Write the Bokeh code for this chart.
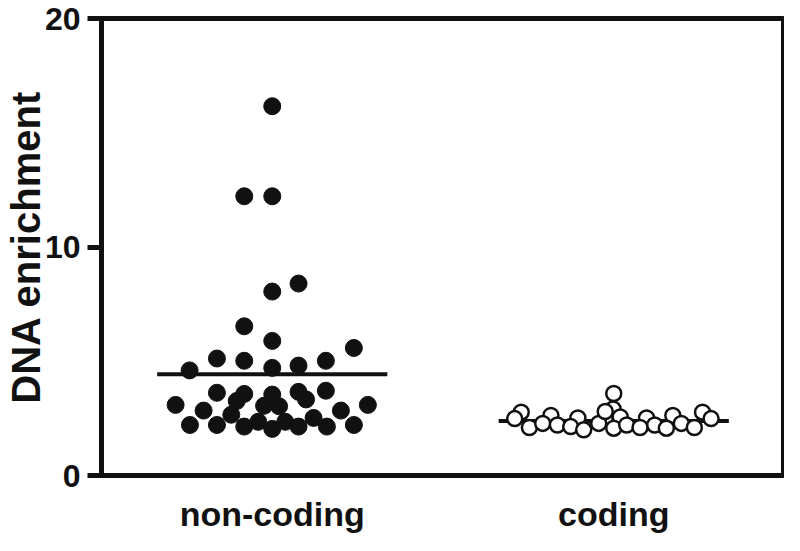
from bokeh.plotting import figure
from bokeh.models import Range1d, FixedTicker, ColumnDataSource
from bokeh.embed import file_html
from bokeh.resources import INLINE

categories = ["non-coding", "coding"]
cat_pos = [0.5, 1.5]

# non-coding: horizontal scatter offset (data units) and enrichment
nc_offset = [0.0, -0.082, 0.0, 0.077, 0.0, -0.082, 0.0, 0.239, -0.162, -0.082,
             0.157, 0.077, 0.0, -0.242, -0.162, -0.082, 0.0, 0.077, 0.157, -0.104,
             0.099, -0.283, 0.280, -0.024, 0.020, -0.201, 0.201, -0.120, 0.121, -0.241,
             -0.162, 0.239, 0.160, -0.082, -0.041, 0.038, 0.0, 0.077]
nc_value = [16.16, 12.22, 12.22, 8.40, 8.05, 6.53, 5.89, 5.58, 5.12, 5.02,
            5.02, 4.81, 4.71, 4.60, 3.62, 3.57, 3.54, 3.66, 3.71, 3.26,
            3.33, 3.09, 3.09, 3.05, 3.03, 2.84, 2.84, 2.66, 2.52, 2.21,
            2.21, 2.21, 2.14, 2.14, 2.35, 2.35, 2.04, 2.14]

# coding
c_offset = [0.0, -0.002, -0.271, -0.184, -0.105, 0.096, 0.173, 0.260, -0.290, -0.025,
            0.019, 0.285, -0.247, -0.208, -0.165, -0.126, -0.088, -0.044, 0.0, 0.038,
            0.077, 0.120, 0.154, 0.198, 0.236, -0.025]
c_value = [3.59, 2.91, 2.77, 2.63, 2.52, 2.52, 2.63, 2.77, 2.49, 2.52,
           2.56, 2.49, 2.10, 2.28, 2.21, 2.14, 2.00, 2.28, 2.07, 2.21,
           2.10, 2.21, 2.07, 2.28, 2.10, 2.80]

means = [4.43, 2.38]
mean_half_width = 0.337

y_ticks = [0, 10, 20]

p = figure(width=784, height=535, output_backend="svg", toolbar_location=None,
           title=None,
           x_range=Range1d(0, 2), y_range=Range1d(0, 20),
           min_border_left=98, min_border_right=0, min_border_top=18, min_border_bottom=53)

p.grid.visible = False
p.background_fill_color = "white"
p.border_fill_color = "white"
p.outline_line_color = "#111111"
p.outline_line_width = 5

FONT = "Liberation Sans"

p.xaxis.ticker = FixedTicker(ticks=cat_pos)
p.xaxis.major_label_overrides = {cat_pos[i]: categories[i] for i in range(2)}
p.xaxis.major_tick_line_color = None
p.xaxis.minor_tick_line_color = None
p.xaxis.axis_line_width = 5
p.xaxis.axis_line_color = "#111111"
p.xaxis.major_label_text_font = FONT
p.xaxis.major_label_text_font_style = "bold"
p.xaxis.major_label_text_font_size = "34px"
p.xaxis.major_label_text_color = "#111111"
p.xaxis.major_label_standoff = 13

p.yaxis.ticker = FixedTicker(ticks=y_ticks)
p.yaxis.minor_tick_line_color = None
p.yaxis.major_tick_out = 14
p.yaxis.major_tick_in = 0
p.yaxis.major_tick_line_width = 5
p.yaxis.major_tick_line_color = "#111111"
p.yaxis.axis_line_width = 5
p.yaxis.axis_line_color = "#111111"
p.yaxis.major_label_text_font = FONT
p.yaxis.major_label_text_font_style = "bold"
p.yaxis.major_label_text_font_size = "32px"
p.yaxis.major_label_text_color = "#111111"
p.yaxis.major_label_standoff = 7
p.yaxis.axis_label = "DNA enrichment"
p.yaxis.axis_label_text_font = FONT
p.yaxis.axis_label_text_font_style = "bold"
p.yaxis.axis_label_text_font_size = "40px"
p.yaxis.axis_label_text_color = "#111111"
p.yaxis.axis_label_standoff = -6

# mean lines
for pos, m in zip(cat_pos, means):
    p.segment(x0=[pos - mean_half_width], y0=[m], x1=[pos + mean_half_width], y1=[m],
              line_color="#111111", line_width=4)

nc_src = ColumnDataSource(dict(x=[cat_pos[0] + o for o in nc_offset], y=nc_value))
c_src = ColumnDataSource(dict(x=[cat_pos[1] + o for o in c_offset], y=c_value))

p.scatter("x", "y", source=nc_src, size=17, fill_color="#111111", line_color="#111111", line_width=1)
p.scatter("x", "y", source=c_src, size=15, fill_color="white", line_color="#111111", line_width=2.5)

open("out.html", "w").write(file_html(p, INLINE))
